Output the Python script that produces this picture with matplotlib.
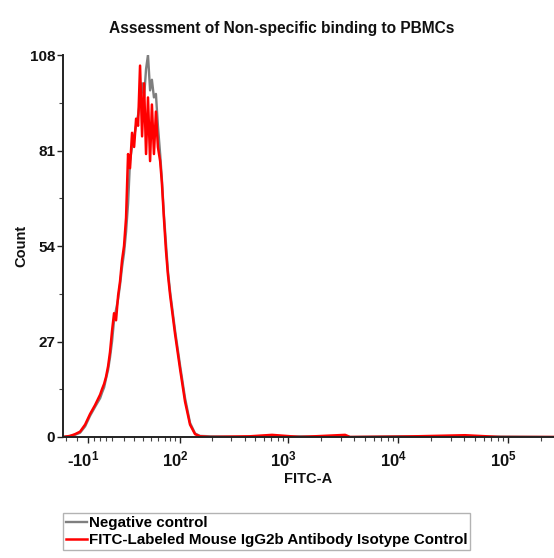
import numpy as np
import matplotlib
matplotlib.use('Agg')
import matplotlib.pyplot as plt
from matplotlib.transforms import ScaledTranslation

# ---------------- data ----------------
fitc_a = [-33.5, -26.2, -21.5, -16.9, -12.5, -8.3, -4.2, 0.0, 1.5, 3.2, 4.8, 6.5,
          8.1, 9.8, 11.5, 13.2, 15.0, 16.7, 18.5, 20.3, 22.2, 24.1, 26.0, 28.0,
          30.1, 32.2, 34.3, 36.5, 38.8, 41.1, 43.5, 45.9, 48.6, 51.0, 53.8, 56.6,
          59.5, 62.9, 65.6, 68.9, 72.3, 75.8, 79.9, 89.6, 100.5, 112, 125, 139.5,
          155, 193, 449, 712, 1283, 3290, 3654, 10400, 40600, 84500, 261000]

negative_control = [0, 0.3, 0.6, 1.2, 3, 6, 8.5, 11, 12.5, 14, 16.5, 19,
                    22.5, 27, 33, 36, 39, 43, 48, 52, 58, 66, 78, 82,
                    85, 88, 91, 95, 100, 96, 104, 108, 98, 101, 96, 97,
                    88, 80, 73, 63, 55, 47, 41, 30, 20, 11, 4, 1,
                    0.3, 0.2, 0, 0, 0.2, 0, 0, 0.2, 0, 0.1, 0]

isotype_control = [0, 0.3, 0.8, 1.5, 3.5, 6.5, 9, 12, 13.5, 15, 17, 20,
                   24, 30, 35, 33, 40, 44, 50, 54, 62, 80, 76, 86,
                   82, 90, 88, 105, 85, 100, 80, 96, 78, 94, 80, 92,
                   82, 78, 72, 62, 53, 46, 40, 29, 19, 10, 3.5, 0.8,
                   0.2, 0, 0.2, 0.6, 0, 0.6, 0, 0.1, 0.5, 0, 0]

series_labels = ['Negative control', 'FITC-Labeled Mouse IgG2b Antibody Isotype Control']
y_ticks = [0, 27, 54, 81, 108]
x_ticks = [-10, 100, 1000, 10000, 100000]
x_tick_labels = [r'-$\mathbf{10^{1}}$', r'$\mathbf{10^{2}}$', r'$\mathbf{10^{3}}$',
                 r'$\mathbf{10^{4}}$', r'$\mathbf{10^{5}}$']
x_minor = [-30, -20, -5, 0, 5, 10, 20, 30, 40, 50, 60, 70, 80, 90,
           200, 300, 400, 500, 600, 700, 800, 900,
           2000, 3000, 4000, 5000, 6000, 7000, 8000, 9000,
           20000, 30000, 40000, 50000, 60000, 70000, 80000, 90000, 200000]

# ---------------- style ----------------
FONT = 'Liberation Sans'
plt.rcParams['font.family'] = [FONT, 'DejaVu Sans']
plt.rcParams['font.weight'] = 'bold'
plt.rcParams['mathtext.fontset'] = 'custom'
plt.rcParams['mathtext.rm'] = FONT + ':bold'
plt.rcParams['mathtext.it'] = FONT + ':bold'
plt.rcParams['mathtext.bf'] = FONT + ':bold'
plt.rcParams['mathtext.default'] = 'bf'

W = 39.0
def fwd(x):
    return np.arcsinh(np.asarray(x, dtype=float) / W)
def inv(y):
    return W * np.sinh(np.asarray(y, dtype=float))

fig = plt.figure(figsize=(5.54, 5.58), dpi=100)
ax = fig.add_axes([63 / 554, 1 - 437 / 558, 1 - 63 / 554, (437 - 55) / 558])
ax.set_xscale('function', functions=(fwd, inv))

l1, = ax.plot(fitc_a, negative_control, color='#7f7f7f', lw=1.7)
l2, = ax.plot(fitc_a, isotype_control, color='#ff0000', lw=1.8)

ax.set_xlim(-33.5, 261000)
ax.set_ylim(0, 108)

for s in ['top', 'right']:
    ax.spines[s].set_visible(False)
for s in ['left', 'bottom']:
    ax.spines[s].set_color('#222222')
    ax.spines[s].set_linewidth(1.4)

ax.set_yticks(y_ticks)
ax.set_yticks([13.5, 40.5, 67.5, 94.5], minor=True)
ax.set_xticks(x_ticks)
ax.set_xticklabels(x_tick_labels)
ax.set_xticks(x_minor, minor=True)
ax.tick_params(axis='both', which='major', length=4, width=1, colors='#222222',
               labelcolor='#111111')
ax.tick_params(axis='both', which='minor', length=3, width=0.8, colors='#444444')
ax.tick_params(axis='x', which='major', pad=5, labelsize=12)
ax.tick_params(axis='y', which='major', pad=1.5, labelsize=11)
for lab in ax.get_xticklabels() + ax.get_yticklabels():
    lab.set_fontweight('bold')

offset = ScaledTranslation(-5 / 100, 0, fig.dpi_scale_trans)
for lab in ax.get_xticklabels():
    lab.set_transform(lab.get_transform() + offset)

ax.set_xlabel('FITC-A', fontsize=10.5, fontweight='bold', labelpad=2, color='#111111')
ax.set_ylabel('Count', fontsize=10.5, fontweight='bold', labelpad=1, color='#111111')

fig.text(0.508, 1 - 28 / 558, 'Assessment of Non-specific binding to PBMCs',
         ha='center', va='center', fontsize=11.2, fontweight='bold', color='#111111')

leg = fig.legend([l1, l2], series_labels, loc='upper left',
                 bbox_to_anchor=(63 / 554, 1 - 513 / 558), frameon=True, fancybox=False,
                 edgecolor='#a0a0a0', handlelength=1.4, handletextpad=0.1,
                 borderpad=0.2, borderaxespad=0, labelspacing=0.2,
                 prop={'size': 10.9, 'weight': 'bold'})
leg.get_frame().set_linewidth(1.0)

fig.savefig('out.png', dpi=100)
